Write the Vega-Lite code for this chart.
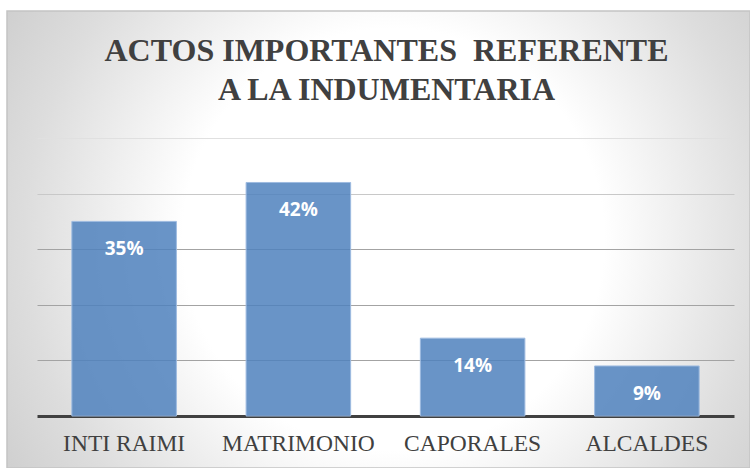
{
  "$schema": "https://vega.github.io/schema/vega-lite/v6.json",
  "width": 743,
  "height": 457,
  "autosize": {"type": "none"},
  "padding": {"left": 7, "top": 11, "right": 0, "bottom": 0},
  "background": "#ffffff",
  "title": {
    "text": ["ACTOS IMPORTANTES\u00a0 REFERENTE", "A LA INDUMENTARIA"],
    "font": "Liberation Serif",
    "fontSize": 32,
    "fontWeight": "bold",
    "color": "#404040",
    "lineHeight": 39,
    "anchor": "middle",
    "frame": "group",
    "offset": -96,
    "dx": 8
  },
  "config": {
    "view": {
      "fill": {
        "gradient": "radial",
        "x1": 0.52, "y1": 0.5, "r1": 0,
        "x2": 0.52, "y2": 0.5, "r2": 0.71,
        "stops": [
          {"offset": 0, "color": "#ffffff"},
          {"offset": 0.4, "color": "#ffffff"},
          {"offset": 0.7, "color": "#dddddd"},
          {"offset": 1, "color": "#c2c2c2"}
        ]
      },
      "stroke": "#c4c4c4",
      "strokeWidth": 1.5
    }
  },
  "data": {
    "values": [
      {"acto": "INTI RAIMI", "pct": 0.35},
      {"acto": "MATRIMONIO", "pct": 0.42},
      {"acto": "CAPORALES", "pct": 0.14},
      {"acto": "ALCALDES", "pct": 0.09}
    ]
  },
  "encoding": {
    "x": {
      "field": "acto",
      "type": "nominal",
      "sort": null,
      "scale": {"range": [30, 727], "paddingInner": 0.4, "paddingOuter": 0.2},
      "axis": {
        "orient": "bottom",
        "offset": -52,
        "title": null,
        "ticks": false,
        "labelAngle": 0,
        "labelFont": "Liberation Serif",
        "labelFontSize": 23.5,
        "labelColor": "#404040",
        "labelPadding": 15,
        "labelBaseline": "top",
        "domainColor": "#404040",
        "domainWidth": 3
      }
    },
    "y": {
      "field": "pct",
      "type": "quantitative",
      "scale": {"domain": [-0.0935, 0.7284], "nice": false, "zero": false},
      "axis": {
        "values": [0.1, 0.2, 0.3, 0.4, 0.5],
        "grid": true,
        "labels": false,
        "ticks": false,
        "domain": false,
        "title": null,
        "gridWidth": 1.2,
        "gridColor": {
          "condition": [
            {"test": "datum.value >= 0.5", "value": "#e0e0e0"},
            {"test": "datum.value >= 0.4", "value": "#c8c8c8"}
          ],
          "value": "#a3a3a3"
        }
      }
    }
  },
  "layer": [
    {
      "mark": {"type": "bar", "fill": "#4f81bd", "fillOpacity": 0.85, "stroke": "#9ebbe0", "strokeWidth": 1},
      "encoding": {
        "y2": {"datum": 0}
      }
    },
    {
      "mark": {"type": "text", "baseline": "middle", "dy": 28, "color": "#ffffff", "font": "Open Sans", "fontWeight": "bold", "fontSize": 19},
      "encoding": {
        "text": {"field": "pct", "type": "quantitative", "format": ".0%"}
      }
    }
  ]
}
